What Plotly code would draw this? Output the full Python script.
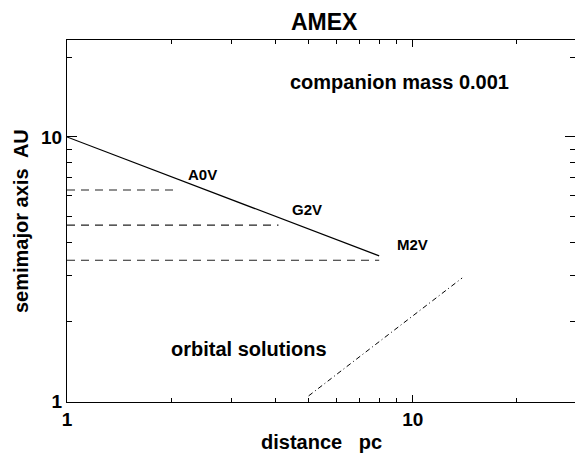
import plotly.graph_objects as go

# distance (pc) and semimajor axis (AU)
solid_x = [1.0, 8.0]
solid_y = [10.0, 3.55]

dash_levels = [6.30, 4.64, 3.42]
dash_ends = [2.08, 4.09, 8.0]

dashdot_x = [5.0, 13.9]
dashdot_y = [1.05, 2.93]

star_labels = ["A0V", "G2V", "M2V"]

x_major = [1, 10]
x_minor = [2, 3, 4, 5, 6, 7, 8, 9, 20]
y_major = [1, 10]
y_minor = [2, 3, 4, 5, 6, 7, 8, 9, 20]

FONT = "Liberation Sans, Arial, Helvetica, sans-serif"

fig = go.Figure()
fig.add_trace(go.Scatter(x=solid_x, y=solid_y, mode="lines",
                         line=dict(color="black", width=1.2), showlegend=False))
for lvl, end in zip(dash_levels, dash_ends):
    fig.add_trace(go.Scatter(x=[1.0, end], y=[lvl, lvl], mode="lines",
                             line=dict(color="#222", width=1.1, dash="8px,6px"),
                             showlegend=False))
fig.add_trace(go.Scatter(x=dashdot_x, y=dashdot_y, mode="lines",
                         line=dict(color="black", width=1, dash="5px,3px,1px,3px"),
                         showlegend=False))

ann = []
def txt(t, x, y, size, xref="x", yref="y", **kw):
    d = dict(text=t, x=x, y=y, xref=xref, yref=yref, showarrow=False,
             font=dict(family=FONT, size=size, color="black", weight="bold"),
             xanchor="center", yanchor="middle")
    d.update(kw)
    ann.append(d)

# star labels (log10 coords on log axes)
txt(star_labels[0], 0.393, 0.859, 15)
txt(star_labels[1], 0.694, 0.727, 15)
txt(star_labels[2], 0.998, 0.594, 15)
txt("companion mass 0.001", 0.963, 1.207, 20)
txt("orbital solutions", 0.5265, 0.197, 20)
# axis titles
txt("distance   pc", 0.5, 0, 20, xref="paper", yref="paper", yshift=-40)
txt("semimajor axis  AU", 0, 0.5, 20, xref="paper", yref="paper", xshift=-46, textangle=-90)
# title
txt("AMEX", 0.5, 1, 23, xref="paper", yref="paper", yshift=18, xshift=3)

axis_common = dict(type="log", showgrid=False, zeroline=False, showline=True,
                   linecolor="black", linewidth=1, mirror="allticks",
                   ticks="inside", tickcolor="black", tickwidth=1,
                   tickfont=dict(family=FONT, size=19, color="black", weight="bold"),
                   tickmode="array")

fig.update_layout(
    width=575, height=454,
    margin=dict(l=67, r=0, t=40, b=52),
    paper_bgcolor="white", plot_bgcolor="white",
    xaxis=dict(axis_common, range=[0, 1.4695], tickvals=x_major,
               ticktext=[str(v) for v in x_major], ticklen=7,
               minor=dict(tickvals=x_minor, ticks="inside", ticklen=4, tickcolor="black")),
    yaxis=dict(axis_common, range=[-0.002, 1.3666], tickvals=y_major,
               ticktext=[str(v) for v in y_major], ticklen=10,
               minor=dict(tickvals=y_minor, ticks="inside", ticklen=5, tickcolor="black")),
    annotations=ann,
)

fig.write_html("out.html", config={"displayModeBar": False},
               post_script="document.body.style.margin='0';document.body.style.overflow='hidden';")
